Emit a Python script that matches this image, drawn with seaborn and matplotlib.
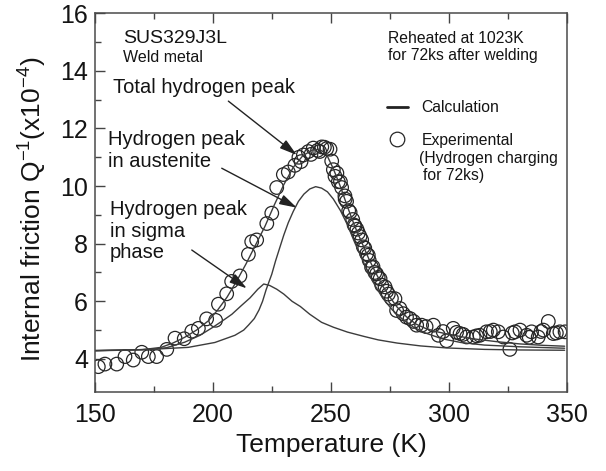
import numpy as np
import pandas as pd
import matplotlib
matplotlib.use("Agg")
import matplotlib.pyplot as plt
import seaborn as sns
from matplotlib.lines import Line2D
from matplotlib.ticker import MultipleLocator, FixedLocator

# ---------------- data ----------------
exp_temp = [151.4, 154.2, 159.2, 162.7, 166.2, 169.8, 172.6, 176.1, 180.4, 183.9,
            187.8, 191.0, 193.8, 197.3, 201.1, 202.3, 205.8, 207.9, 211.4, 215.0,
            216.4, 218.5, 222.8, 224.9, 227.0, 229.8, 231.9, 234.7, 236.4, 237.3,
            238.3, 240.4, 241.5, 242.5, 244.3, 245.2, 246.1, 247.2, 248.2, 249.6,
            250.3, 251.0, 251.7, 252.5, 253.1, 254.0, 254.5, 255.9, 256.0, 256.6,
            257.5, 258.1, 259.2, 259.8, 260.2, 261.0, 261.6, 262.3, 263.0, 263.7,
            264.3, 265.1, 265.8, 266.2, 267.2, 267.8, 268.6, 269.3, 270.0, 270.8,
            271.5, 272.9, 273.6, 274.3, 275.6, 277.1, 277.8, 279.2, 280.6, 282.0,
            283.5, 285.0, 286.3, 288.4, 290.3, 293.4, 295.5, 297.5, 299.0, 301.8,
            303.2, 304.7, 306.0, 307.5, 310.3, 311.7, 313.1, 315.9, 317.5, 318.8,
            320.9, 323.0, 325.8, 326.8, 328.0, 330.1, 332.9, 334.0, 335.0, 337.8,
            339.0, 340.0, 342.1, 344.2, 345.5, 347.0, 349.2]
exp_q = [3.73, 3.82, 3.82, 4.08, 3.96, 4.23, 4.08, 4.08, 4.33, 4.72,
         4.70, 4.96, 5.06, 5.39, 5.34, 5.90, 6.26, 6.69, 6.88, 7.63,
         8.07, 8.13, 8.70, 9.06, 9.95, 10.40, 10.49, 10.72, 11.00, 10.85,
         11.08, 11.20, 11.10, 11.32, 11.24, 11.20, 11.36, 11.35, 11.30, 11.28,
         10.87, 10.57, 10.34, 10.45, 10.15, 10.15, 9.95, 9.66, 9.55, 9.47,
         9.15, 9.09, 8.84, 8.65, 8.61, 8.50, 8.37, 8.25, 8.13, 7.89,
         7.85, 7.65, 7.60, 7.42, 7.18, 7.20, 7.00, 6.95, 6.83, 6.78,
         6.56, 6.50, 6.35, 6.25, 6.10, 6.09, 5.68, 5.75, 5.57, 5.45,
         5.40, 5.30, 5.17, 5.17, 5.12, 5.17, 4.82, 4.95, 4.63, 5.06,
         4.92, 4.88, 4.85, 4.76, 4.76, 4.80, 4.82, 4.94, 4.95, 5.00,
         4.94, 4.76, 4.33, 4.90, 4.94, 5.00, 4.82, 4.75, 4.94, 4.76,
         4.95, 5.00, 5.30, 4.88, 4.90, 4.94, 4.94]

total_temp = [150, 170, 178, 183, 188, 193, 198, 202, 206, 210, 214, 218, 222, 226,
              230, 234, 238, 242, 245, 248, 251, 254, 257, 260, 263, 266, 269, 272,
              275, 278, 282, 286, 290, 295, 300, 310, 320, 330, 340, 349]
total_q = [4.29, 4.32, 4.40, 4.55, 4.75, 5.00, 5.32, 5.70, 6.15, 6.70, 7.30, 7.95, 8.60, 9.35,
           10.05, 10.65, 11.05, 11.25, 11.28, 11.12, 10.60, 9.98, 9.28, 8.62, 8.05, 7.48, 6.98, 6.52,
           6.14, 5.80, 5.46, 5.21, 5.06, 4.94, 4.85, 4.70, 4.60, 4.52, 4.47, 4.44]

aust_temp = [150, 171, 189.5, 200.8, 209.3, 213, 215, 217.5, 219.5, 221, 222.5, 224.9, 226.5,
             228.4, 230, 231.9, 234, 236.2, 238.5, 241, 243.5, 246, 248.5, 251, 254, 257,
             260, 263, 266, 269, 272, 276, 280, 285, 290, 297, 305, 315, 330, 349]
aust_q = [4.28, 4.32, 4.40, 4.57, 4.82, 5.00, 5.17, 5.40, 5.70, 6.00, 6.40, 6.94, 7.40,
          7.89, 8.30, 8.73, 9.12, 9.47, 9.72, 9.90, 9.98, 9.93, 9.80, 9.55, 9.15, 8.65,
          8.05, 7.50, 6.95, 6.50, 6.10, 5.70, 5.40, 5.10, 4.90, 4.70, 4.57, 4.48, 4.42, 4.37]

sigma_temp = [150, 165, 175, 180.4, 188, 194.5, 200, 204, 208, 212, 215.7, 219, 221.5, 224,
              227, 230, 233.5, 237, 241, 246, 251, 257, 264, 270, 278, 288, 299, 315, 330, 349]
sigma_q = [4.29, 4.31, 4.34, 4.39, 4.58, 4.82, 5.10, 5.32, 5.55, 5.85, 6.12, 6.42, 6.60, 6.55,
           6.42, 6.25, 6.00, 5.82, 5.55, 5.27, 5.10, 4.93, 4.78, 4.66, 4.55, 4.45, 4.38, 4.33, 4.31, 4.30]

x_ticks = [150, 200, 250, 300, 350]
y_ticks = [4, 6, 8, 10, 12, 14, 16]

# ---------------- style ----------------
sns.set_theme(style="ticks")
plt.rcParams["font.family"] = ["Liberation Sans", "DejaVu Sans"]
plt.rcParams["mathtext.default"] = "regular"

LINE_C = "#3c3c3c"
MARK_C = "#262626"
TXT_C = "#141414"

fig = plt.figure(figsize=(6.06, 4.71), dpi=100)
ax = fig.add_axes([0.1568, 0.1677, 0.7788, 0.8041])

curves = pd.concat([
    pd.DataFrame({"T": total_temp, "Q": total_q, "curve": "total"}),
    pd.DataFrame({"T": aust_temp, "Q": aust_q, "curve": "austenite"}),
    pd.DataFrame({"T": sigma_temp, "Q": sigma_q, "curve": "sigma"}),
])
for name, sub in curves.groupby("curve", sort=False):
    sns.lineplot(data=sub, x="T", y="Q", ax=ax, color=LINE_C, linewidth=1.0,
                 estimator=None, sort=False, legend=False)

exp = pd.DataFrame({"T": exp_temp, "Q": exp_q})
sns.scatterplot(data=exp, x="T", y="Q", ax=ax, marker="o", s=95,
                facecolor="none", edgecolor=MARK_C, linewidth=0.9, legend=False)

ax.set_xlim(150, 350)
ax.set_ylim(2.85, 16)
ax.xaxis.set_major_locator(FixedLocator(x_ticks))
ax.xaxis.set_minor_locator(MultipleLocator(25))
ax.yaxis.set_major_locator(FixedLocator(y_ticks))
ax.yaxis.set_minor_locator(FixedLocator([5, 7, 9, 11, 13, 15]))
ax.set_xticklabels([str(v) for v in x_ticks])
ax.set_yticklabels([str(v) for v in y_ticks])

ax.tick_params(which="both", direction="in", top=True, right=False, left=True, bottom=True,
               color="#444444", width=1.0)
ax.tick_params(which="major", length=7, labelsize=18, labelcolor=TXT_C)
ax.tick_params(axis="x", which="major", pad=8)
ax.tick_params(axis="y", which="major", pad=5)
ax.tick_params(which="minor", length=4)
for sp in ax.spines.values():
    sp.set_color("#4a4a4a")
    sp.set_linewidth(1.1)

ax.set_xlabel("Temperature (K)", fontsize=19, color=TXT_C, labelpad=4)
ax.set_ylabel("")
fig.text(0.0545, 0.556, r"Internal friction Q$^{-1}$(x10$^{-4}$)", rotation=90,
         ha="center", va="center", fontsize=19, color=TXT_C)

# ---------------- texts ----------------
ax.text(161.7, 14.96, "SUS329J3L", fontsize=14, color=TXT_C, va="baseline")
ax.text(161.9, 14.32, "Weld metal", fontsize=11.5, color=TXT_C, va="baseline")
ax.text(274.3, 14.96, "Reheated at 1023K", fontsize=11.3, color=TXT_C, va="baseline")
ax.text(274.3, 14.38, "for 72ks after welding", fontsize=11.3, color=TXT_C, va="baseline")

ax.text(157.8, 13.22, "Total hydrogen peak", fontsize=14.5, color=TXT_C, va="baseline")
ax.text(155.6, 11.43, "Hydrogen peak", fontsize=14.5, color=TXT_C, va="baseline")
ax.text(155.6, 10.67, "in austenite", fontsize=14.5, color=TXT_C, va="baseline")
ax.text(156.4, 9.00, "Hydrogen peak", fontsize=14.5, color=TXT_C, va="baseline")
ax.text(156.4, 8.24, "in sigma", fontsize=14.5, color=TXT_C, va="baseline")
ax.text(156.4, 7.50, "phase", fontsize=14.5, color=TXT_C, va="baseline")

arrow_kw = dict(arrowstyle="-|>,head_length=0.75,head_width=0.22", color="#222222",
                lw=1.0, mutation_scale=14, shrinkA=0, shrinkB=0)
ax.annotate("", xy=(235.5, 11.08), xytext=(206.5, 12.95), arrowprops=arrow_kw)
ax.annotate("", xy=(235.5, 9.25), xytext=(203.7, 10.62), arrowprops=arrow_kw)
ax.annotate("", xy=(214.3, 6.45), xytext=(191.0, 7.78), arrowprops=arrow_kw)

# ---------------- legend ----------------
handles = [Line2D([], [], color="#222222", linewidth=2.0),
           Line2D([], [], color=MARK_C, marker="o", linestyle="none", markersize=10.5,
                  markerfacecolor="none", markeredgewidth=0.9)]
leg = ax.legend(handles, ["Calculation", "Experimental"], loc="upper left",
                bbox_to_anchor=(0.619, 0.770), frameon=False, fontsize=11.3,
                handlelength=1.3, handletextpad=0.9, labelspacing=1.1,
                borderpad=0, borderaxespad=0)
for t in leg.get_texts():
    t.set_color(TXT_C)
ax.text(287.4, 10.80, "(Hydrogen charging", fontsize=11.3, color=TXT_C, va="baseline")
ax.text(289.1, 10.20, "for 72ks)", fontsize=11.3, color=TXT_C, va="baseline")

fig.savefig("out.png", dpi=100)
